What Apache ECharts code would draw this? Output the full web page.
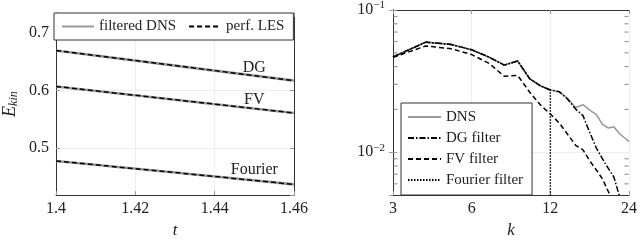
<!DOCTYPE html>
<html><head><meta charset="utf-8">
<script src="https://cdn.jsdelivr.net/npm/echarts@6/dist/echarts.min.js"></script>
<style>html,body{margin:0;padding:0;background:#fff}#c{width:640px;height:244px}</style>
</head><body><div id="c"></div>
<script>
// ---- left panel data ----
const tValues = [1.4, 1.43, 1.46];
const dgDNS = [0.669, 0.643, 0.617];
const dgLES = [0.669, 0.643, 0.617];
const fvDNS = [0.607, 0.584, 0.561];
const fvLES = [0.607, 0.584, 0.561];
const fourierDNS = [0.478, 0.458, 0.4375];
const fourierLES = [0.478, 0.458, 0.4375];
const leftYTicks = [0.5, 0.6, 0.7];
// ---- right panel data ----
const kValues = [3,4,5,6,7,8,9,10,11,12,13,14,15,16,17,18,19,20,21,22,23,24];
const dnsSpec = [0.0468,0.0594,0.0573,0.0525,0.0466,0.0410,0.0438,0.0329,0.0293,0.0274,0.0266,0.0239,0.0206,0.0216,0.0198,0.0184,0.0157,0.0148,0.0151,0.0136,0.0127,0.0119];
const dgSpec = [0.0468,0.0594,0.0573,0.0525,0.0466,0.0410,0.0438,0.0329,0.0293,0.0274,0.0266,0.0235,0.0201,0.0181,0.0137,0.0107,0.0090,0.0077,0.0067,0.0050,0.0042,0.0036];
const fvK = [3,4,5,6,7,8,9,10,11,12,13,14,15,16,17,18,19,20,21];
const fvSpec = [0.0465,0.0558,0.0535,0.0486,0.0421,0.0342,0.0347,0.0265,0.0215,0.0186,0.0160,0.0133,0.0112,0.0104,0.0087,0.0075,0.0065,0.0053,0.0044];
const fourierK = [3,4,5,6,7,8,9,10,11,12,12];
const fourierSpec = [0.0468,0.0594,0.0573,0.0525,0.0466,0.0410,0.0438,0.0329,0.0293,0.0274,0.003];
const minorTicks = [0.006,0.007,0.008,0.009,0.02,0.03,0.04,0.05,0.06,0.07,0.08,0.09];
const kTickBase = 3;

const FONT = 'Liberation Serif';
const lk = k => Math.log2(k / kTickBase);
const pairs = (xs, ys, f) => xs.map((x, i) => [f ? f(x) : x, ys[i]]);

const tickStyle = {show: true, inside: true, length: 4, lineStyle: {color: '#999'}};
const axisLine = {show: true, lineStyle: {color: '#333', width: 1}};
const split = {show: true, lineStyle: {color: '#eeeeee', width: 1}};
const lbl = {fontFamily: FONT, fontSize: 16, color: '#222'};

function supFmt(v) {
  const l = Math.log10(v), e = Math.round(l);
  if (Math.abs(l - e) > 1e-6) return '';
  return '{b|10}{s|\u2212' + (-e) + '}';
}

const chart = echarts.init(document.getElementById('c'), null, {renderer: 'canvas'});
const gray = '#9a9a9a';
function dnsLine(name, xs, ys, label, ly) {
  return {
    type: 'line', name: name, xAxisIndex: 0, yAxisIndex: 0, data: pairs(xs, ys),
    symbol: 'none', lineStyle: {color: gray, width: 2.6}, itemStyle: {color: gray}, z: 2,
    markPoint: {symbol: 'circle', symbolSize: 0, silent: true,
      label: {show: true, position: 'inside', formatter: label, fontFamily: FONT, fontSize: 16, color: '#222'},
      data: [{coord: [1.45, ly]}]}
  };
}
function lesLine(name, xs, ys) {
  return {type: 'line', name: name, xAxisIndex: 0, yAxisIndex: 0, data: pairs(xs, ys),
    symbol: 'none', lineStyle: {color: '#000', width: 1.5, type: [5, 3]}, itemStyle: {color: '#000'}, z: 3};
}
const hiddenSym = {opacity: 0, borderWidth: 0};
function minorScatter(xv, off) {
  return {type: 'scatter', xAxisIndex: 2, yAxisIndex: 2, data: minorTicks.map(v => [xv, v]),
    symbol: 'rect', clip: false, symbolSize: [4, 1.2], symbolOffset: [off, 0],
    itemStyle: {color: '#999', opacity: 1}, silent: true, z: 10};
}

const option = {
  animation: false,
  backgroundColor: '#fff',
  textStyle: {fontFamily: FONT},
  grid: [
    {left: 55, right: 346, top: 13, bottom: 43},
    {left: 393, right: 9, top: 7, bottom: 43}
  ],
  legend: [
    {data: ['filtered DNS', 'perf. LES'], left: 54, top: 13, orient: 'horizontal',
     itemWidth: 32, itemHeight: 14, itemGap: 12, padding: [6, 9, 6, 7],
     borderColor: '#333', borderWidth: 1, backgroundColor: '#fff', itemStyle: hiddenSym,
     textStyle: {fontFamily: FONT, fontSize: 15, color: '#222'}, selectedMode: false},
    {data: ['DNS', 'DG filter', 'FV filter', 'Fourier filter'], left: 401, top: 103, orient: 'vertical',
     itemWidth: 33, itemHeight: 16, itemGap: 5, padding: [6, 9, 7, 6],
     borderColor: '#333', borderWidth: 1, backgroundColor: '#fff', itemStyle: hiddenSym,
     textStyle: {fontFamily: FONT, fontSize: 15, color: '#222', lineHeight: 16}, selectedMode: false}
  ],
  xAxis: [
    {type: 'value', gridIndex: 0, min: 1.4, max: 1.46, interval: 0.02, axisLine: axisLine, axisTick: tickStyle,
     splitLine: split, axisLabel: Object.assign({margin: 6}, lbl),
     name: 't', nameLocation: 'middle', nameGap: 22, nameTextStyle: {fontFamily: FONT, fontSize: 17, fontStyle: 'italic', color: '#222'}},
    {type: 'value', gridIndex: 0, position: 'top', min: 1.4, max: 1.46, interval: 0.02, axisLine: axisLine, axisTick: tickStyle,
     splitLine: {show: false}, axisLabel: {show: false}},
    {type: 'value', gridIndex: 1, min: 0, max: 3, interval: 1, axisLine: axisLine, axisTick: tickStyle,
     splitLine: split, axisLabel: Object.assign({margin: 6, formatter: v => String(Math.round(kTickBase * Math.pow(2, v)))}, lbl),
     name: 'k', nameLocation: 'middle', nameGap: 22, nameTextStyle: {fontFamily: FONT, fontSize: 17, fontStyle: 'italic', color: '#222'}},
    {type: 'value', gridIndex: 1, position: 'top', min: 0, max: 3, interval: 1, axisLine: axisLine, axisTick: tickStyle,
     splitLine: {show: false}, axisLabel: {show: false}}
  ],
  yAxis: [
    {type: 'value', gridIndex: 0, min: 0.419, max: 0.734, splitNumber: 3, minInterval: 0.1, maxInterval: 0.1,
     axisLine: axisLine, axisTick: tickStyle, splitLine: split,
     axisLabel: Object.assign({margin: 7, showMinLabel: false, showMaxLabel: false,
       formatter: v => leftYTicks.some(t => Math.abs(t - v) < 1e-6) ? v.toFixed(1) : ''}, lbl),
     name: '{e|E}{s|kin}', nameLocation: 'middle', nameGap: 36, nameRotate: 90,
     nameTextStyle: {rich: {e: {fontFamily: FONT, fontSize: 18, fontStyle: 'italic', color: '#222'},
                            s: {fontFamily: FONT, fontSize: 12, fontStyle: 'italic', color: '#222', padding: [8, 0, 0, 0]}}}},
    {type: 'value', gridIndex: 0, position: 'right', min: 0.419, max: 0.734, splitNumber: 3, minInterval: 0.1, maxInterval: 0.1,
     axisLine: axisLine, axisTick: tickStyle, splitLine: {show: false}, axisLabel: {show: false}},
    {type: 'log', logBase: 10, gridIndex: 1, min: 0.005, max: 0.1, axisLine: axisLine, axisTick: tickStyle, splitLine: split,
     axisLabel: {margin: 8, showMinLabel: false, formatter: supFmt,
       rich: {b: {fontFamily: FONT, fontSize: 16, color: '#222'},
              s: {fontFamily: FONT, fontSize: 11, color: '#222', padding: [0, 0, 9, 0]}}}},
    {type: 'log', logBase: 10, gridIndex: 1, position: 'right', min: 0.005, max: 0.1, axisLine: axisLine, axisTick: tickStyle,
     splitLine: {show: false}, axisLabel: {show: false}}
  ],
  series: [
    dnsLine('filtered DNS', tValues, dgDNS, 'DG', 0.6395),
    dnsLine('filtered DNS', tValues, fvDNS, 'FV', 0.5846),
    dnsLine('filtered DNS', tValues, fourierDNS, 'Fourier', 0.4627),
    lesLine('perf. LES', tValues, dgLES),
    lesLine('perf. LES', tValues, fvLES),
    lesLine('perf. LES', tValues, fourierLES),
    {type: 'line', name: 'DNS', xAxisIndex: 2, yAxisIndex: 2, data: pairs(kValues, dnsSpec, lk), symbol: 'none',
     lineStyle: {color: gray, width: 1.6}, itemStyle: {color: gray}, z: 2},
    {type: 'line', name: 'DG filter', xAxisIndex: 2, yAxisIndex: 2, data: pairs(kValues, dgSpec, lk), symbol: 'none',
     lineStyle: {color: '#000', width: 1.5, type: [6, 2, 1.5, 2]}, itemStyle: {color: '#000'}, z: 3},
    {type: 'line', name: 'FV filter', xAxisIndex: 2, yAxisIndex: 2, data: pairs(fvK, fvSpec, lk), symbol: 'none',
     lineStyle: {color: '#000', width: 1.5, type: [5, 3]}, itemStyle: {color: '#000'}, z: 3},
    {type: 'line', name: 'Fourier filter', xAxisIndex: 2, yAxisIndex: 2, data: pairs(fourierK, fourierSpec, lk), symbol: 'none',
     lineStyle: {color: '#000', width: 1.5, type: [1.5, 1.5]}, itemStyle: {color: '#000'}, z: 4},
    minorScatter(0, 2.5),
    minorScatter(3, -2.5)
  ]
};
chart.setOption(option);
</script></body></html>
